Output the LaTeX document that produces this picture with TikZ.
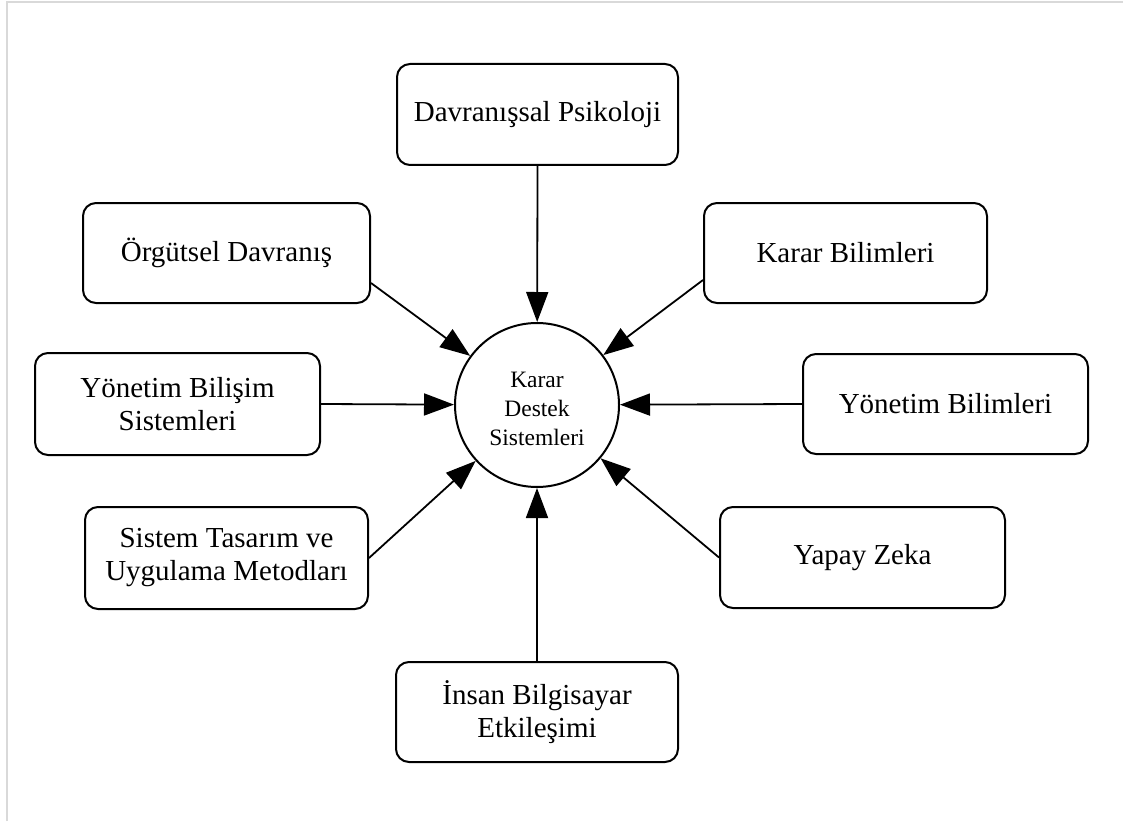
\documentclass[tikz,border=0pt]{standalone}
\usepackage{fontspec}
\setmainfont{Liberation Serif}
\usetikzlibrary{arrows.meta}
\begin{document}
\begin{tikzpicture}[x=1pt,y=-1pt,
  box/.style={draw, line width=2pt, rounded corners=13pt, align=center,
    inner sep=0pt, font=\fontsize{29}{33}\selectfont},
  hub/.style={draw, circle, line width=2pt, inner sep=0pt, minimum size=164pt},
  hubtext/.style={align=center, inner sep=0pt, font=\fontsize{23.5}{29}\selectfont},
  arr/.style={line width=1.8pt, -{Triangle[length=30pt,width=22pt]}},
  frame/.style={draw=black!15, line width=2pt}]
\useasboundingbox (0,0) rectangle (1123,821);
\draw[frame] (7,821) -- (7,2) -- (1123,2);

\node[hub] (c) at (537,405) {};
\node[hubtext] (ct) at (537,409) {Karar\\Destek\\Sistemleri};

\node[box, minimum width=281pt, minimum height=101pt] (dp) at (537.5,114.5) {Davranışsal Psikoloji};
\node[box, minimum width=287pt, minimum height=100pt] (od) at (226.5,253) {Örgütsel Davranış};
\node[box, minimum width=283pt, minimum height=100pt] (kb) at (845.5,253) {Karar Bilimleri};
\node[box, minimum width=285pt, minimum height=102pt] (ybs) at (177.5,404) {Yönetim Bilişim\\Sistemleri};
\node[box, minimum width=285pt, minimum height=100pt] (yb) at (945.5,404) {Yönetim Bilimleri};
\node[box, minimum width=283pt, minimum height=102pt] (st) at (226.5,558) {Sistem Tasarım ve\\Uygulama Metodları};
\node[box, minimum width=285pt, minimum height=101pt] (yz) at (862.5,557.5) {Yapay Zeka};
\node[box, minimum width=282pt, minimum height=100pt] (ib) at (537,712) {İnsan Bilgisayar\\Etkileşimi};

\draw[arr] (dp.south) -- (c);
\draw[arr] ([yshift=-30pt]od.east) -- (c);
\draw[arr] ([yshift=-27pt]kb.west) -- (c);
\draw[arr] (ybs.east) -- (c);
\draw[arr] (yb.west) -- (c);
\draw[arr] (st.east) -- (c);
\draw[arr] (yz.west) -- (c);
\draw[arr] (ib.north) -- (c);
\end{tikzpicture}
\end{document}
